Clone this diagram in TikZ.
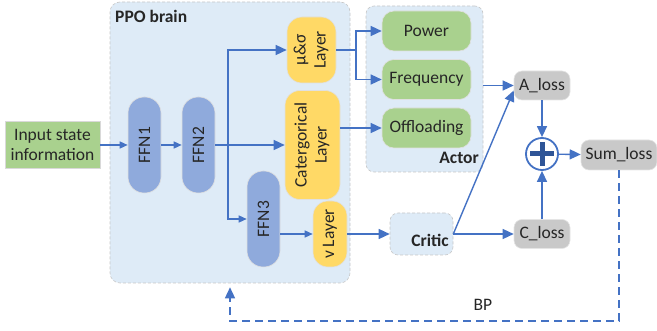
\documentclass[tikz,border=0pt]{standalone}
\usepackage{fontspec}
\setmainfont{Carlito}
\usepackage{graphicx}
\usetikzlibrary{arrows.meta}
\definecolor{arrowblue}{HTML}{4472C4}
\definecolor{plusblue}{HTML}{2F5597}
\definecolor{panelblue}{HTML}{DEEBF7}
\definecolor{ffnblue}{HTML}{8FAADC}
\definecolor{layeryellow}{HTML}{FFD966}
\definecolor{outgreen}{HTML}{A9D18E}
\definecolor{lossgray}{HTML}{C9C9C9}
\definecolor{textgray}{HTML}{262626}

\begin{document}
\begin{tikzpicture}[x=1pt,y=-1pt,
	panel/.style={rectangle, fill=panelblue, draw=black!22, dash pattern=on 3pt off 2pt, line width=0.6pt, rounded corners=10pt},
	ffn/.style={rectangle, fill=ffnblue, draw=black!12, line width=0.6pt, rounded corners=16pt, minimum width=33pt, minimum height=96pt},
	layer/.style={rectangle, fill=layeryellow, draw=black!12, line width=0.6pt, rounded corners=15pt},
	output/.style={rectangle, fill=outgreen, draw=black!12, line width=0.6pt, rounded corners=12pt, minimum width=89pt, minimum height=40pt},
	loss/.style={rectangle, fill=lossgray, draw=black!10, line width=0.6pt, rounded corners=8pt, minimum width=56pt, minimum height=29pt},
	link/.style={draw=arrowblue, line width=1.4pt, -{Triangle[length=11pt,width=10pt]}},
	smalllink/.style={draw=arrowblue, line width=1.4pt, -{Triangle[length=8pt,width=7pt]}},
	bpline/.style={dash pattern=on 8pt off 5pt}]
	\tikzstyle{every node}+=[inner sep=0pt, text=textgray, font=\fontsize{17.5}{20}\selectfont]
	\useasboundingbox (0,0) rectangle (657,331);
	\node[panel, minimum width=240pt, minimum height=281pt] (ppo) at (230,142.5) {};
	\node[anchor=west] (ppolabel) at (115,16) {\bfseries PPO brain};
	\node[panel, rounded corners=8pt, minimum width=117pt, minimum height=166pt] (actor) at (424.5,89) {};
	\node[anchor=east] (actorlabel) at (479,158) {\bfseries Actor};
	\node[panel, rounded corners=8pt, minimum width=63pt, minimum height=42pt] (critic) at (421.5,234) {};
	\node[anchor=east] (criticlabel) at (449,240.5) {\bfseries Critic};
	\node[rectangle, fill=outgreen, draw=black!15, line width=0.6pt, minimum width=95pt, minimum height=47pt, align=center] (input) at (52.5,145) {Input state\\information};
	\node[ffn] (ffn1) at (144.5,145) {\rotatebox{90}{FFN1}};
	\node[ffn] (ffn2) at (198.5,145) {\rotatebox{90}{FFN2}};
	\node[ffn] (ffn3) at (263.5,219) {\rotatebox{90}{FFN3}};
	\node[layer, minimum width=49pt, minimum height=66pt] (mu) at (311.5,50) {\rotatebox{90}{\begin{tabular}{@{}c@{}}μ\&σ\\Layer\end{tabular}}};
	\node[layer, minimum width=55pt, minimum height=109pt] (cat) at (312.5,145) {\rotatebox{90}{\begin{tabular}{@{}c@{}}Catergorical\\Layer\end{tabular}}};
	\node[layer, minimum width=34pt, minimum height=66pt] (vlay) at (330,234) {\rotatebox{90}{v Layer}};
	\node[output] (power) at (426.5,31) {Power};
	\node[output] (freq) at (426.5,79.5) {Frequency};
	\node[output] (offl) at (426.5,128) {Offloading};
	\node[loss] (aloss) at (542,85.5) {A\_loss};
	\node[loss] (closs) at (542,234) {C\_loss};
	\node[loss, minimum width=76pt, minimum height=30pt] (sumloss) at (619,155) {Sum\_loss};
	\node[circle, draw=arrowblue, line width=1.8pt, fill=white, minimum size=32pt] (plus) at (542,154) {};
	\draw[plusblue, line width=5pt] ([xshift=-12pt]plus.center) -- ([xshift=12pt]plus.center);
	\draw[plusblue, line width=5pt] ([yshift=-12pt]plus.center) -- ([yshift=12pt]plus.center);
	\coordinate (split) at (228,145);
	\coordinate (fork) at (356,50);
	\coordinate (bpturn) at (230,321);
	\draw[smalllink] (input) -- (ffn1);
	\draw[smalllink] (ffn1) -- (ffn2);
	\draw[link] (ffn2) -- (cat);
	\draw[link] (split) |- (mu);
	\draw[smalllink] (split) |- (ffn3);
	\draw[smalllink] (ffn3.east |- vlay) -- (vlay);
	\draw[link] (mu) -- (fork) |- (power);
	\draw[link] (fork) |- (freq);
	\draw[link] (cat.east |- offl) -- (offl);
	\draw[link] (actor.east |- aloss) -- (aloss);
	\draw[link] (vlay) -- (critic);
	\draw[link] (critic) -- (closs);
	\draw[link] (critic.east) -- (aloss.190);
	\draw[link] (aloss) -- (plus);
	\draw[link] (closs) -- (plus);
	\draw[link] (plus) -- (sumloss);
	\draw[link, bpline, shorten >=4pt] (sumloss.south) |- (bpturn) -- (bpturn |- ppo.south);
	\node (bplabel) at (483,305) {BP};
\end{tikzpicture}
\end{document}
